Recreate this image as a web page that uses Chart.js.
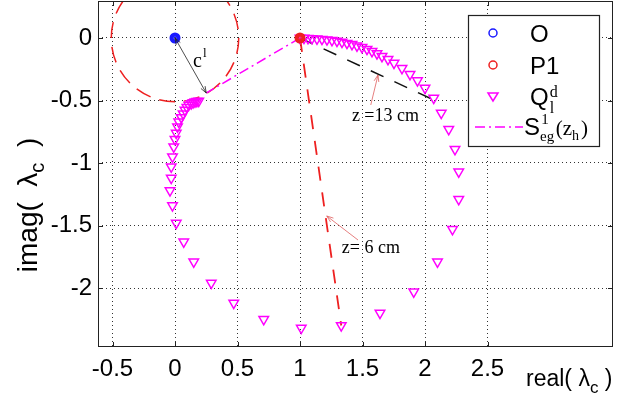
<!DOCTYPE html>
<html>
<head>
<meta charset="utf-8">
<script src="https://cdn.jsdelivr.net/npm/chart.js@4.4.1/dist/chart.umd.min.js"></script>
<style>
  html, body { margin: 0; padding: 0; background: #fff; }
  #wrap { width: 629px; height: 400px; }
</style>
</head>
<body>
<div id="wrap"><canvas id="c" width="629" height="400"></canvas></div>
<script>
// ---- data ----
const xTicks = [-0.5, 0, 0.5, 1, 1.5, 2, 2.5];
const xTickLabels = ['-0.5', '0', '0.5', '1', '1.5', '2', '2.5'];
const yTicks = [0, -0.5, -1, -1.5, -2];
const yTickLabels = ['0', '-0.5', '-1', '-1.5', '-2'];

const oPoint = [0, 0];
const p1Point = [1, 0];

// Q_l^d locus, from P1 clockwise round to the circle
const qReal = [1.00, 1.032, 1.064, 1.096, 1.136, 1.176, 1.216, 1.256, 1.296, 1.336,
  1.376, 1.416, 1.456, 1.496, 1.536, 1.576, 1.616, 1.656, 1.704, 1.752,
  1.816, 1.88, 1.94, 2.00, 2.07, 2.13, 2.19, 2.24, 2.27, 2.27,
  2.22, 2.10, 1.91, 1.64, 1.33, 1.01, 0.71, 0.47, 0.29, 0.15,
  0.07, 0.01, -0.02, -0.04, -0.03, -0.03, -0.02, -0.01, 0.00, 0.01,
  0.02, 0.03, 0.05, 0.065, 0.08, 0.095, 0.11, 0.13, 0.145, 0.16, 0.175, 0.19];
const qImag = [0.00, 0.00, -0.002, -0.003, -0.006, -0.009, -0.013, -0.018, -0.024, -0.032,
  -0.041, -0.050, -0.062, -0.074, -0.089, -0.106, -0.124, -0.146, -0.170, -0.200,
  -0.242, -0.29, -0.34, -0.40, -0.48, -0.60, -0.73, -0.89, -1.07, -1.29,
  -1.53, -1.79, -2.03, -2.20, -2.30, -2.32, -2.25, -2.12, -1.96, -1.79,
  -1.63, -1.48, -1.34, -1.22, -1.12, -1.03, -0.95, -0.87, -0.81, -0.76,
  -0.71, -0.67, -0.635, -0.605, -0.576, -0.554, -0.536, -0.524, -0.516, -0.51, -0.506, -0.504];

// S_eg^1(z_h): P1 to the tangent point on the circle
const segReal = [1, 0.25];
const segImag = [0, -0.44];
// z = 13 cm and z = 6 cm lines from P1
const z13Real = [1, 2.08];
const z13Imag = [0, -0.50];
const z6Real = [1, 1.33];
const z6Imag = [0, -2.30];
// circle round O, radius c^l
const circleCenter = [0, 0];
const circleRadius = 0.51;

const toXY = (xs, ys) => xs.map((x, i) => ({ x: x, y: ys[i] }));

const MAGENTA = '#ff00ff';
const RED = '#ee2020';
const BLUE = '#1a1aff';
const SANS = '"Liberation Sans", Arial, sans-serif';
const SERIF = '"Liberation Serif", "Times New Roman", serif';

// draw a run of text pieces (sub/superscripts) starting at x
function drawRich(ctx, parts, x, y, align) {
  let total = 0;
  parts.forEach(p => { ctx.font = p.font; p.w = ctx.measureText(p.text).width; total += p.w + (p.gap || 0); });
  let cx = align === 'center' ? x - total / 2 : x;
  ctx.textAlign = 'left';
  ctx.textBaseline = 'alphabetic';
  parts.forEach(p => {
    ctx.font = p.font;
    cx += (p.gap || 0);
    ctx.fillText(p.text, cx, y + (p.dy || 0));
    if (!p.stack) cx += p.w;
  });
}

function arrowHead(ctx, x1, y1, x2, y2, len) {
  const a = Math.atan2(y2 - y1, x2 - x1);
  ctx.beginPath();
  ctx.moveTo(x2 - len * Math.cos(a - 0.35), y2 - len * Math.sin(a - 0.35));
  ctx.lineTo(x2, y2);
  ctx.lineTo(x2 - len * Math.cos(a + 0.35), y2 - len * Math.sin(a + 0.35));
  ctx.stroke();
}

// dashed circle, clipped to the axes
const circlePlugin = {
  id: 'circle',
  beforeDatasetsDraw(chart) {
    const { ctx, chartArea, scales } = chart;
    const cx = scales.x.getPixelForValue(circleCenter[0]);
    const cy = scales.y.getPixelForValue(circleCenter[1]);
    const rx = scales.x.getPixelForValue(circleCenter[0] + circleRadius) - cx;
    const ry = cy - scales.y.getPixelForValue(circleCenter[1] + circleRadius);
    ctx.save();
    ctx.beginPath();
    ctx.rect(chartArea.left, chartArea.top, chartArea.right - chartArea.left, chartArea.bottom - chartArea.top);
    ctx.clip();
    ctx.strokeStyle = RED;
    ctx.lineWidth = 1.5;
    ctx.setLineDash([16, 9]);
    ctx.beginPath();
    ctx.ellipse(cx, cy, rx, ry, 0, 0, Math.PI * 2);
    ctx.stroke();
    ctx.restore();
  }
};

// arrows and text notes
const notesPlugin = {
  id: 'notes',
  afterDatasetsDraw(chart) {
    const { ctx, scales } = chart;
    const px = v => scales.x.getPixelForValue(v);
    const py = v => scales.y.getPixelForValue(v);
    ctx.save();
    ctx.fillStyle = '#000';

    // c^l double arrow from O to the tangent point
    const ax1 = px(0), ay1 = py(0), ax2 = px(0.25), ay2 = py(-0.44);
    ctx.strokeStyle = '#222';
    ctx.lineWidth = 0.8;
    ctx.beginPath(); ctx.moveTo(ax1, ay1); ctx.lineTo(ax2, ay2); ctx.stroke();
    arrowHead(ctx, ax1, ay1, ax2, ay2, 7);
    arrowHead(ctx, ax2, ay2, ax1, ay1, 7);
    drawRich(ctx, [
      { text: 'c', font: '20px ' + SERIF },
      { text: 'l', font: '13px ' + SERIF, dy: -10, gap: 1 }
    ], px(0.144), py(-0.232));

    // z = 13 cm
    ctx.strokeStyle = '#e06060';
    ctx.lineWidth = 0.8;
    let x1 = px(1.566), y1 = py(-0.536), x2 = px(1.624), y2 = py(-0.296);
    ctx.beginPath(); ctx.moveTo(x1, y1); ctx.lineTo(x2, y2); ctx.stroke();
    arrowHead(ctx, x1, y1, x2, y2, 7);
    ctx.font = '18px ' + SERIF;
    ctx.textAlign = 'left';
    ctx.fillText('z =13 cm', px(1.415), py(-0.665));

    // z = 6 cm
    x1 = px(1.464); y1 = py(-1.616); x2 = px(1.214); y2 = py(-1.424);
    ctx.beginPath(); ctx.moveTo(x1, y1); ctx.lineTo(x2, y2); ctx.stroke();
    arrowHead(ctx, x1, y1, x2, y2, 7);
    ctx.fillText('z= 6 cm', px(1.334), py(-1.716));
    ctx.restore();
  }
};

// box, inner ticks, axis titles and legend
const framePlugin = {
  id: 'frame',
  afterDraw(chart) {
    const { ctx, chartArea: a, scales } = chart;
    ctx.save();
    ctx.strokeStyle = '#222';
    ctx.lineWidth = 1;
    ctx.setLineDash([]);
    ctx.strokeRect(a.left + 0.5, a.top + 0.5, a.right - a.left - 1, a.bottom - a.top - 1);
    ctx.beginPath();
    xTicks.forEach(v => {
      const x = Math.round(scales.x.getPixelForValue(v)) + 0.5;
      ctx.moveTo(x, a.bottom); ctx.lineTo(x, a.bottom - 5);
      ctx.moveTo(x, a.top); ctx.lineTo(x, a.top + 5);
    });
    yTicks.forEach(v => {
      const y = Math.round(scales.y.getPixelForValue(v)) + 0.5;
      ctx.moveTo(a.left, y); ctx.lineTo(a.left + 5, y);
      ctx.moveTo(a.right, y); ctx.lineTo(a.right - 5, y);
    });
    ctx.stroke();

    // axis titles
    ctx.fillStyle = '#000';
    drawRich(ctx, [
      { text: 'real( ', font: '23px ' + SANS },
      { text: 'λ', font: '23px ' + SANS },
      { text: 'c', font: '17px ' + SANS, dy: 7 },
      { text: ' )', font: '23px ' + SANS }
    ], 526, 386);
    ctx.save();
    ctx.translate(37, 205);
    ctx.rotate(-Math.PI / 2);
    drawRich(ctx, [
      { text: 'imag(  ', font: '28px ' + SANS },
      { text: 'λ', font: '28px ' + SANS },
      { text: 'c', font: '20px ' + SANS, dy: 7 },
      { text: '  )', font: '28px ' + SANS }
    ], 0, 0, 'center');
    ctx.restore();

    // legend
    const L = { x: 468, y: 15, w: 131, h: 131 };
    ctx.fillStyle = '#fff';
    ctx.fillRect(L.x, L.y, L.w, L.h);
    ctx.strokeStyle = '#222';
    ctx.lineWidth = 1.2;
    ctx.strokeRect(L.x + 0.5, L.y + 0.5, L.w, L.h);
    const mx = 493, tx = 530;
    const rows = [33, 65, 96, 127];
    ctx.lineWidth = 1.5;
    ctx.strokeStyle = BLUE;
    ctx.beginPath(); ctx.arc(mx, rows[0], 4, 0, Math.PI * 2); ctx.stroke();
    ctx.strokeStyle = RED;
    ctx.beginPath(); ctx.arc(mx, rows[1], 4, 0, Math.PI * 2); ctx.stroke();
    ctx.strokeStyle = MAGENTA;
    ctx.beginPath();
    ctx.moveTo(mx - 5, rows[2] - 3); ctx.lineTo(mx + 5, rows[2] - 3); ctx.lineTo(mx, rows[2] + 5); ctx.closePath();
    ctx.stroke();
    ctx.setLineDash([10, 4, 2, 4]);
    ctx.beginPath(); ctx.moveTo(475, rows[3]); ctx.lineTo(523, rows[3]); ctx.stroke();
    ctx.setLineDash([]);

    ctx.fillStyle = '#000';
    ctx.font = '24px ' + SANS;
    ctx.textAlign = 'left';
    ctx.textBaseline = 'alphabetic';
    ctx.fillText('O', tx, rows[0] + 9);
    ctx.fillText('P1', tx, rows[1] + 9);
    drawRich(ctx, [
      { text: 'Q', font: '24px ' + SANS },
      { text: 'l', font: '16px ' + SERIF, dy: 8, gap: 1, stack: true },
      { text: 'd', font: '16px ' + SERIF, dy: -8 }
    ], tx, rows[2] + 9);
    drawRich(ctx, [
      { text: 'S', font: '24px ' + SANS, gap: -3 },
      { text: 'eg', font: '15px ' + SERIF, dy: 6, gap: 0 },
      { text: '1', font: '15px ' + SERIF, dy: -11, gap: -13 },
      { text: '(z', font: '21px ' + SERIF, gap: 7 },
      { text: 'h', font: '14px ' + SERIF, dy: 5 },
      { text: ')', font: '21px ' + SERIF, gap: 2 }
    ], 527, rows[3] + 8);
    ctx.restore();
  }
};

new Chart(document.getElementById('c'), {
  type: 'scatter',
  data: {
    datasets: [
      {
        label: 'O', data: toXY([oPoint[0]], [oPoint[1]]),
        pointStyle: 'circle', pointRadius: 3.5, borderWidth: 4,
        borderColor: BLUE, backgroundColor: 'rgba(40,40,255,0.6)', order: 0
      },
      {
        label: 'P1', data: toXY([p1Point[0]], [p1Point[1]]),
        pointStyle: 'circle', pointRadius: 3.5, borderWidth: 4,
        borderColor: RED, backgroundColor: 'rgba(255,40,40,0.5)', order: 1
      },
      {
        label: 'Q', data: toXY(qReal, qImag),
        pointStyle: 'triangle', rotation: 180, pointRadius: 5.5, borderWidth: 1.5,
        borderColor: MAGENTA, backgroundColor: 'rgba(0,0,0,0)', order: 2
      },
      {
        label: 'Seg', data: toXY(segReal, segImag), showLine: true, pointRadius: 0,
        borderColor: MAGENTA, borderWidth: 1.5, borderDash: [10, 4, 2, 4], order: 3
      },
      {
        label: 'z13', data: toXY(z13Real, z13Imag), showLine: true, pointRadius: 0,
        borderColor: '#111', borderWidth: 1.5, borderDash: [14, 12], order: 4
      },
      {
        label: 'z6', data: toXY(z6Real, z6Imag), showLine: true, pointRadius: 0,
        borderColor: RED, borderWidth: 1.8, borderDash: [14, 12], order: 5
      }
    ]
  },
  options: {
    responsive: false,
    animation: false,
    devicePixelRatio: 1,
    layout: { autoPadding: false, padding: { left: 0, right: 16, top: 1, bottom: 0 } },
    plugins: { legend: { display: false }, tooltip: { enabled: false } },
    scales: {
      x: {
        type: 'linear', min: -0.616, max: 3.504,
        afterBuildTicks: s => { s.ticks = xTicks.map(v => ({ value: v })); },
        afterFit: s => { s.height = 53; s.paddingLeft = 0; s.paddingRight = 0; },
        ticks: {
          color: '#000', padding: 8, maxRotation: 0, autoSkip: false,
          font: { family: SANS, size: 24 },
          callback: v => xTickLabels[xTicks.indexOf(v)]
        },
        grid: { color: '#333', lineWidth: 1, drawTicks: false },
        border: { display: false, dash: [1, 3] }
      },
      y: {
        type: 'linear', min: -2.472, max: 0.296,
        afterBuildTicks: s => { s.ticks = yTicks.map(v => ({ value: v })); },
        afterFit: s => { s.width = 98; s.paddingTop = 0; s.paddingBottom = 0; },
        ticks: {
          color: '#000', padding: 6, autoSkip: false,
          font: { family: SANS, size: 24 },
          callback: v => yTickLabels[yTicks.indexOf(v)]
        },
        grid: { color: '#333', lineWidth: 1, drawTicks: false },
        border: { display: false, dash: [1, 3] }
      }
    }
  },
  plugins: [circlePlugin, notesPlugin, framePlugin]
});
</script>
</body>
</html>
